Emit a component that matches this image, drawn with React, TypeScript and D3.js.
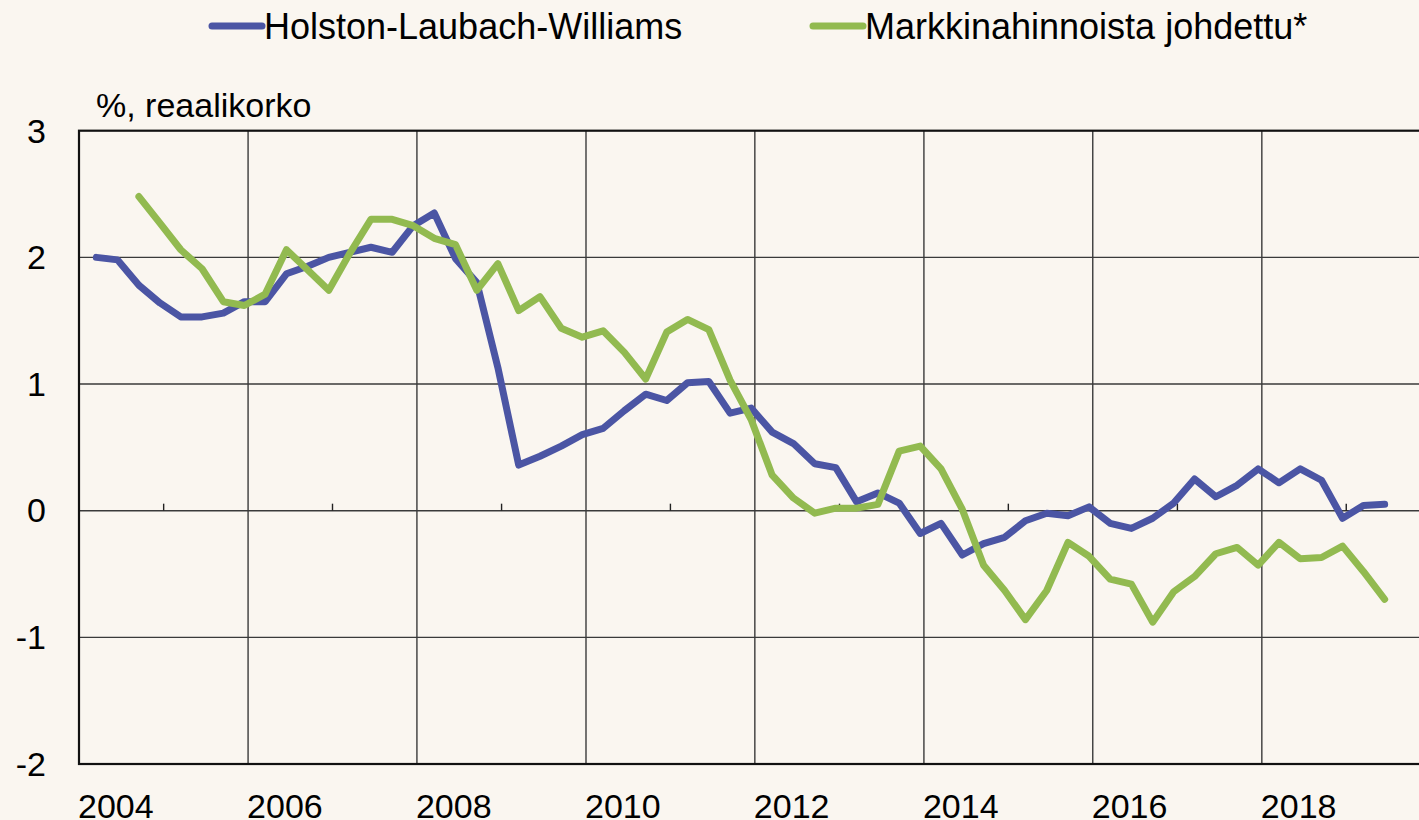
import React from "react";
import * as d3 from "d3";

// Quarterly data, 2004Q1 .. 2019Q2
const startYear = 2004;
const hlw: number[] = [
  2.0, 1.98, 1.78, 1.64, 1.53, 1.53, 1.56, 1.65,
  1.65, 1.87, 1.93, 2.0, 2.04, 2.08, 2.04, 2.25,
  2.35, 1.99, 1.8, 1.13, 0.36, 0.43, 0.51, 0.6,
  0.65, 0.79, 0.92, 0.87, 1.01, 1.02, 0.77, 0.81,
  0.62, 0.53, 0.37, 0.34, 0.07, 0.14, 0.06, -0.18,
  -0.1, -0.35, -0.26, -0.21, -0.08, -0.02, -0.04, 0.03,
  -0.1, -0.14, -0.06, 0.06, 0.25, 0.11, 0.2, 0.33,
  0.22, 0.33, 0.24, -0.06, 0.04, 0.05,
];
const market: (number | null)[] = [
  null, null, 2.48, 2.27, 2.06, 1.91, 1.65, 1.62,
  1.71, 2.06, 1.9, 1.74, 2.03, 2.3, 2.3, 2.25,
  2.15, 2.1, 1.74, 1.95, 1.58, 1.69, 1.44, 1.37,
  1.42, 1.25, 1.04, 1.41, 1.51, 1.43, 1.03, 0.72,
  0.28, 0.1, -0.02, 0.02, 0.02, 0.05, 0.47, 0.51,
  0.33, 0.01, -0.43, -0.63, -0.86, -0.63, -0.25, -0.36,
  -0.54, -0.58, -0.88, -0.64, -0.52, -0.34, -0.29, -0.43,
  -0.25, -0.38, -0.37, -0.28, -0.48, -0.7,
];
const seriesNames = ["Holston-Laubach-Williams", "Markkinahinnoista johdettu*"];
const seriesColors = ["#4B55A4", "#92BA50"];
const yTicks = [3, 2, 1, 0, -1, -2];
const xLabelYears = [2004, 2006, 2008, 2010, 2012, 2014, 2016, 2018];
const xMinorYears = [2005, 2007, 2009, 2011, 2013, 2015, 2017, 2019];
const yAxisTitle = "%, reaalikorko";

const W = 1419;
const H = 820;
const plot = { left: 79, top: 130.7, bottom: 764, yearPx: 84.48 };

function quarterDate(i: number): Date {
  const year = startYear + Math.floor(i / 4);
  const q = i % 4;
  // plotted at middle of the last month of the quarter
  return new Date(year, q * 3 + 2, 16);
}

export default function App() {
  const x = d3
    .scaleTime()
    .domain([new Date(2004, 0, 1), new Date(2020, 0, 1)])
    .range([plot.left, plot.left + 16 * plot.yearPx]);
  const y = d3.scaleLinear().domain([-2, 3]).range([plot.bottom, plot.top]);
  const right = x(new Date(2020, 0, 1));

  const line = d3
    .line<[Date, number | null]>()
    .defined((d) => d[1] !== null)
    .x((d) => x(d[0]))
    .y((d) => y(d[1] as number));

  const hlwPts: [Date, number | null][] = hlw.map((v, i) => [quarterDate(i), v]);
  const mktPts: [Date, number | null][] = market.map((v, i) => [quarterDate(i), v]);

  const font = "'Liberation Sans', Arial, sans-serif";

  return (
    <svg
      width={W}
      height={H}
      style={{ position: "absolute", left: 0, top: 0, display: "block" }}
      fontFamily={font}
    >
      <rect x={0} y={0} width={W} height={H} fill="#FAF6F0" />

      {/* horizontal gridlines */}
      {yTicks
        .filter((t) => t !== 3 && t !== -2)
        .map((t) => (
          <line key={"hy" + t} x1={plot.left} x2={right} y1={y(t)} y2={y(t)} stroke="#3a3a3a" strokeWidth={1.4} />
        ))}
      {/* vertical gridlines */}
      {xLabelYears
        .filter((yr) => yr !== 2004)
        .map((yr) => {
          const xx = x(new Date(yr, 0, 1));
          return <line key={"vx" + yr} x1={xx} x2={xx} y1={plot.top} y2={plot.bottom} stroke="#3a3a3a" strokeWidth={1.4} />;
        })}
      {/* minor ticks on zero line */}
      {xMinorYears.map((yr) => {
        const xx = x(new Date(yr, 0, 1));
        return <line key={"mt" + yr} x1={xx} x2={xx} y1={y(0)} y2={y(0) - 7} stroke="#222" strokeWidth={1.4} />;
      })}

      {/* frame */}
      <rect x={plot.left} y={plot.top} width={right - plot.left} height={plot.bottom - plot.top} fill="none" stroke="#111" strokeWidth={2.2} />

      {/* series */}
      <path d={line(hlwPts) || ""} fill="none" stroke={seriesColors[0]} strokeWidth={7} strokeLinejoin="round" strokeLinecap="round" />
      <path d={line(mktPts) || ""} fill="none" stroke={seriesColors[1]} strokeWidth={7} strokeLinejoin="round" strokeLinecap="round" />

      {/* y tick labels */}
      {yTicks.map((t) => (
        <text key={"yl" + t} x={46} y={y(t) + 11.8} textAnchor="end" fontSize={34} fill="#000">
          {t}
        </text>
      ))}
      {/* x labels */}
      {xLabelYears.map((yr) => (
        <text key={"xl" + yr} x={x(new Date(yr, 0, 1)) - 1} y={818} textAnchor="start" fontSize={34} fill="#000">
          {yr}
        </text>
      ))}

      {/* axis title */}
      <text x={96} y={117} fontSize={34} fill="#000">
        {yAxisTitle}
      </text>

      {/* legend */}
      {[212, 813].map((lx, i) => (
        <g key={"lg" + i}>
          <line x1={lx} x2={lx + 50} y1={26} y2={26} stroke={seriesColors[i]} strokeWidth={7} strokeLinecap="round" />
          <text x={lx + 52} y={38.5} fontSize={36} fill="#000">
            {seriesNames[i]}
          </text>
        </g>
      ))}
    </svg>
  );
}
